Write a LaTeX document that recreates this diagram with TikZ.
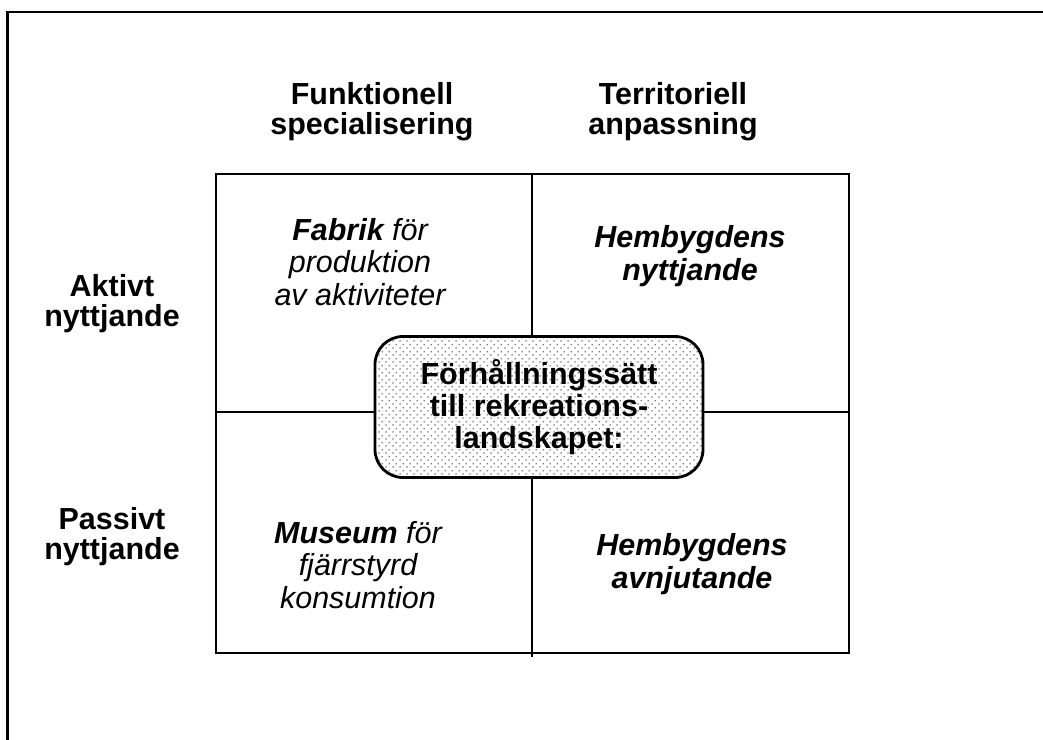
\documentclass[tikz,border=0pt]{standalone}
\usepackage{fontspec}
\setmainfont{Liberation Sans}
\usetikzlibrary{patterns}

% fine staggered dots for the centre box
\pgfdeclarepatternformonly{finedots}{\pgfqpoint{-1pt}{-1pt}}{\pgfqpoint{2pt}{2pt}}{\pgfqpoint{3pt}{3pt}}{
  \pgfpathcircle{\pgfqpoint{0pt}{0pt}}{0.32pt}
  \pgfpathcircle{\pgfqpoint{1.5pt}{1.5pt}}{0.32pt}
  \pgfusepath{fill}
}

\tikzset{
  head/.style={font=\bfseries\fontsize{13}{12.8}\selectfont, align=center},
  cell/.style={font=\itshape\fontsize{13}{14}\selectfont, align=center},
  cellbold/.style={font=\bfseries\itshape\fontsize{13}{14}\selectfont, align=center},
  centrebox/.style={draw, line width=1.2pt, rounded corners=0.42cm,
    preaction={fill=white}, pattern=finedots,
    minimum width=4.92cm, minimum height=2.115cm, inner sep=0pt,
    font=\bfseries\fontsize{13}{13.6}\selectfont, align=center},
}

\begin{document}
\begin{tikzpicture}[x=0.015cm, y=-0.015cm]
      \useasboundingbox (0,0) rectangle (1043,740);

      % Draw the outer frame
      \draw[line width=0.9pt] (7.5,745) -- (7.5,12) -- (1050,12);

      % Draw the main rectangle
      \draw[line width=0.8pt] (216,174) rectangle (849,653);
      \draw[line width=0.8pt] (532,174) -- (532,657);
      \draw[line width=0.8pt] (216,412) -- (849,412);

      % Draw the headings
      \node[head] (funk) at (372,112) {Funktionell\\specialisering};
      \node[head] (terr) at (673,112) {Territoriell\\anpassning};
      \node[head] (aktiv) at (112,304) {Aktivt\\nyttjande};
      \node[head] (passiv) at (112,537) {Passivt\\nyttjande};

      % Draw the cells
      \node[cell] (fabrik) at (360,262) {\textbf{Fabrik} för\\produktion\\av aktiviteter};
      \node[cellbold] (hemnytt) at (690,256) {Hembygdens\\nyttjande};
      \node[cell] (museum) at (358,565) {\textbf{Museum} för\\fjärrstyrd\\konsumtion};
      \node[cellbold] (hemavnj) at (692,564) {Hembygdens\\avnjutande};

      % Draw the centre box
      \node[centrebox] (centre) at (539,407) {Förhållningssätt\\till rekreations-\\landskapet:};
\end{tikzpicture}
\end{document}
